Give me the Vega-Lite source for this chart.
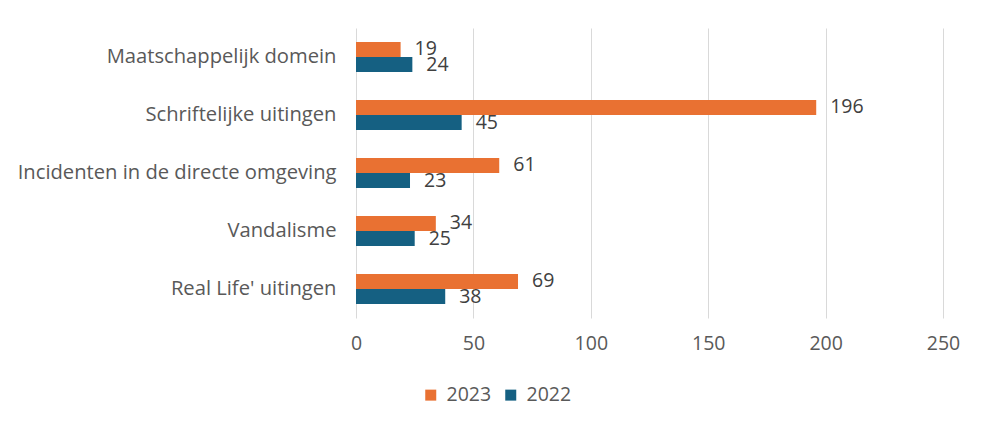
{
  "$schema": "https://vega.github.io/schema/vega-lite/v6.json",
  "width": 587,
  "height": 290,
  "autosize": "none",
  "padding": {"left": 356, "top": 28, "right": 43, "bottom": 114},
  "background": "white",
  "data": {"values": [
    {"cat": "Maatschappelijk domein", "year": "2023", "value": 19},
    {"cat": "Maatschappelijk domein", "year": "2022", "value": 24},
    {"cat": "Schriftelijke uitingen", "year": "2023", "value": 196},
    {"cat": "Schriftelijke uitingen", "year": "2022", "value": 45},
    {"cat": "Incidenten in de directe omgeving", "year": "2023", "value": 61},
    {"cat": "Incidenten in de directe omgeving", "year": "2022", "value": 23},
    {"cat": "Vandalisme", "year": "2023", "value": 34},
    {"cat": "Vandalisme", "year": "2022", "value": 25},
    {"cat": "Real Life' uitingen", "year": "2023", "value": 69},
    {"cat": "Real Life' uitingen", "year": "2022", "value": 38}
  ]},
  "encoding": {
    "y": {
      "field": "cat", "type": "nominal", "sort": null, "title": null,
      "scale": {"paddingInner": 0.48, "paddingOuter": 0.24},
      "axis": {"ticks": false, "domain": false, "labelPadding": 20, "labelFontSize": 20.2, "labelColor": "#595959", "labelFont": "Open Sans", "labelLimit": 400}
    },
    "yOffset": {"field": "year", "type": "nominal", "sort": ["2023", "2022"]},
    "x": {
      "field": "value", "type": "quantitative", "title": null,
      "scale": {"domain": [0, 250], "nice": false},
      "axis": {"values": [0, 50, 100, 150, 200, 250], "ticks": false, "domain": false, "grid": true, "gridColor": "#d9d9d9", "gridWidth": 1, "labelFlush": false, "labelPadding": 16, "labelFontSize": 19.5, "labelColor": "#595959", "labelFont": "Open Sans"}
    }
  },
  "layer": [
    {
      "mark": {"type": "bar"},
      "encoding": {
        "color": {
          "field": "year", "type": "nominal",
          "scale": {"domain": ["2023", "2022"], "range": ["#E97132", "#156082"]},
          "legend": {"title": null, "orient": "none", "direction": "horizontal", "legendX": 65, "legendY": 357, "symbolType": "square", "symbolSize": 121, "symbolStrokeWidth": 0, "labelFontSize": 19.5, "labelColor": "#595959", "labelFont": "Open Sans", "labelOffset": 6, "columnPadding": 9}
        }
      }
    },
    {
      "mark": {"type": "text", "align": "left", "baseline": "middle", "dx": 14, "fontSize": 19.5, "color": "#404040", "font": "Open Sans"},
      "encoding": {"text": {"field": "value", "type": "quantitative"}}
    }
  ],
  "config": {"view": {"stroke": null}}
}
